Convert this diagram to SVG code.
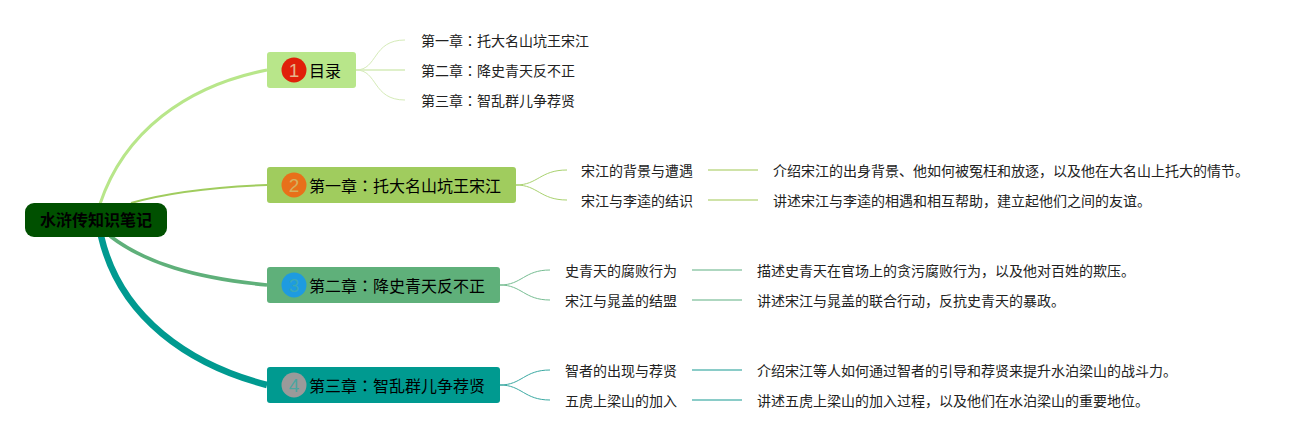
<svg xmlns="http://www.w3.org/2000/svg" width="1309" height="440" viewBox="0 0 1309 440">
<style>
text{font-family:"Noto Sans CJK SC","Liberation Sans",sans-serif}
.c{font-family:"Noto Sans CJK TC",sans-serif}
.root{font-size:16px;font-weight:700;fill:#000;text-anchor:middle}
.t{font-size:16px;fill:#000}
.s{font-size:14px;fill:#222}
.n{font-size:19px;font-family:"Liberation Sans",sans-serif;text-anchor:middle}
.l{fill:none}
</style>
<rect width="1309" height="440" fill="#fff"/>
<g id="connectors" class="l">
<path d="M100 204C124 132 186 86 267 70" stroke="#b8e68a" stroke-width="3"/>
<path d="M131 203C170 192 215 187 267 185" stroke="#a0cc5e" stroke-width="2"/>
<path d="M110 236C145 263 195 278 267 285" stroke="#5fb07a" stroke-width="3.5"/>
<path d="M101 236C120 318 190 365 267 385" stroke="#009a90" stroke-width="6.5"/>
<g stroke="#d5ebb8" stroke-width="1">
<path d="M356 70C378 70 372 40 405 40"/><path d="M356 70H405" stroke-width="1.5"/><path d="M356 70C378 70 372 100 405 100"/>
</g>
<g stroke="#a9d26f" stroke-width="1">
<path d="M516 185C538 185 540 170 567 170"/><path d="M516 185C538 185 540 200 567 200"/>
</g>
<path d="M708 170H758M708 200H758" stroke="#cfe3a8" stroke-width="2"/>
<g stroke="#76bd92" stroke-width="1">
<path d="M500 285C522 285 524 270 550 270"/><path d="M500 285C522 285 524 300 550 300"/>
</g>
<path d="M692 270H742M692 300H742" stroke="#aed7c0" stroke-width="2"/>
<g stroke="#3aa9a2" stroke-width="1">
<path d="M500 385C522 385 524 370 550 370"/><path d="M500 385C522 385 524 400 550 400"/>
</g>
<path d="M692 370H742M692 400H742" stroke="#8accc8" stroke-width="2"/>
</g>
<g id="root"><rect x="25" y="203" width="142" height="34" rx="9" fill="#005000"/><text class="root" x="96" y="226">水浒传知识笔记</text></g>
<g id="n1"><rect x="267" y="52" width="89" height="36" rx="3" fill="#b8e68a"/><circle cx="294" cy="70" r="12.5" fill="#e0200a"/><text class="n" x="294" y="77" fill="#e6b48a">1</text><text class="t" x="309" y="77">目录</text></g>
<g id="n2"><rect x="267" y="167" width="249" height="36" rx="3" fill="#a0cc5e"/><circle cx="294" cy="185" r="12.5" fill="#e8701a"/><text class="n" x="294" y="192" fill="#d4b060">2</text><text class="t" x="309" y="192">第一章<tspan class="c">：</tspan>托大名山坑王宋江</text></g>
<g id="n3"><rect x="267" y="267" width="233" height="36" rx="3" fill="#5fb07a"/><circle cx="294" cy="285" r="12.5" fill="#1e9be0"/><text class="n" x="294" y="292" fill="#3aa8b8">3</text><text class="t" x="309" y="292">第二章<tspan class="c">：</tspan>降史青天反不正</text></g>
<g id="n4"><rect x="267" y="367" width="233" height="36" rx="3" fill="#009a90"/><circle cx="294" cy="385" r="12.5" fill="#9a9a9a"/><text class="n" x="294" y="392" fill="#4aa5a0">4</text><text class="t" x="309" y="392">第三章<tspan class="c">：</tspan>智乱群儿争荐贤</text></g>
<g id="n1a"><text class="s" x="421" y="46">第一章<tspan class="c">：</tspan>托大名山坑王宋江</text></g>
<g id="n1b"><text class="s" x="421" y="76">第二章<tspan class="c">：</tspan>降史青天反不正</text></g>
<g id="n1c"><text class="s" x="421" y="106">第三章<tspan class="c">：</tspan>智乱群儿争荐贤</text></g>
<g id="n2a"><text class="s" x="581" y="176">宋江的背景与遭遇</text></g>
<g id="n2a1"><text class="s" x="773" y="176">介绍宋江的出身背景、他如何被冤枉和放逐，以及他在大名山上托大的情节。</text></g>
<g id="n2b"><text class="s" x="581" y="206">宋江与李逵的结识</text></g>
<g id="n2b1"><text class="s" x="773" y="206">讲述宋江与李逵的相遇和相互帮助，建立起他们之间的友谊。</text></g>
<g id="n3a"><text class="s" x="565" y="276">史青天的腐败行为</text></g>
<g id="n3a1"><text class="s" x="757" y="276">描述史青天在官场上的贪污腐败行为，以及他对百姓的欺压。</text></g>
<g id="n3b"><text class="s" x="565" y="306">宋江与晁盖的结盟</text></g>
<g id="n3b1"><text class="s" x="757" y="306">讲述宋江与晁盖的联合行动，反抗史青天的暴政。</text></g>
<g id="n4a"><text class="s" x="565" y="376">智者的出现与荐贤</text></g>
<g id="n4a1"><text class="s" x="757" y="376">介绍宋江等人如何通过智者的引导和荐贤来提升水泊梁山的战斗力。</text></g>
<g id="n4b"><text class="s" x="565" y="406">五虎上梁山的加入</text></g>
<g id="n4b1"><text class="s" x="757" y="406">讲述五虎上梁山的加入过程，以及他们在水泊梁山的重要地位。</text></g>
</svg>
